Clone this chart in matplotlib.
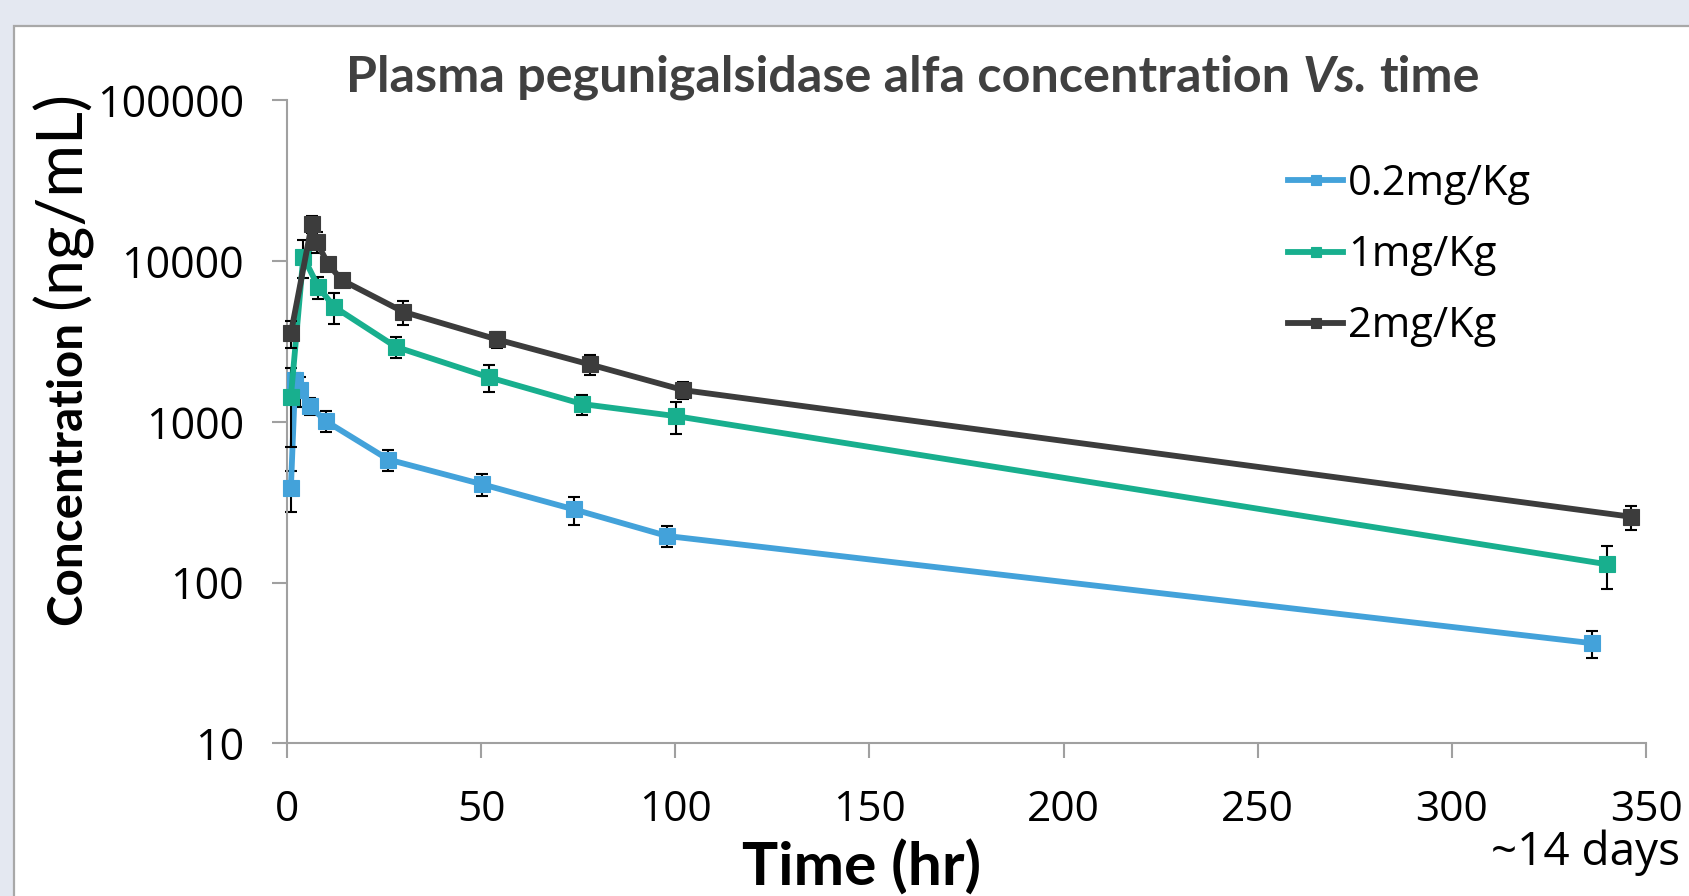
import matplotlib
matplotlib.use("Agg")
import matplotlib.pyplot as plt
from matplotlib.patches import Rectangle
from matplotlib.ticker import NullLocator, FixedLocator, FixedFormatter

# ---------------- data ----------------
time_02 = [1.0, 2.1, 3.4, 5.9, 10.0, 26.1, 50.1, 74.0, 97.9, 336.1]
conc_02 = [385, 1810, 1570, 1250, 1010, 583, 410, 285, 195, 42]
err_02 = [110, 190, 330, 150, 150, 89, 63, 57, 29, 8]

time_1 = [1.0, 4.2, 8.1, 12.1, 28.0, 52.1, 76.1, 100.2, 340.0]
conc_1 = [1430, 10640, 6890, 5200, 2930, 1890, 1290, 1085, 130]
err_1 = [730, 2800, 1050, 1120, 450, 360, 185, 240, 39]

time_2 = [1.0, 6.4, 7.6, 10.6, 14.1, 30.0, 54.0, 78.0, 102.1, 346.1]
conc_2 = [3550, 17000, 13200, 9570, 7620, 4830, 3260, 2275, 1575, 257]
err_2 = [660, 2000, 2000, 600, 500, 830, 380, 320, 190, 43]

series_labels = ["0.2mg/Kg", "1mg/Kg", "2mg/Kg"]
series_colors = ["#43A2DA", "#18AF8E", "#3C3C3C"]

x_ticks = [0, 50, 100, 150, 200, 250, 300, 350]
y_ticks = [10, 100, 1000, 10000, 100000]
y_tick_labels = ["10", "100", "1000", "10000", "100000"]

title_parts = [("Plasma pegunigalsidase alfa concentration", "normal"),
               ("Vs.", "italic"),
               ("time", "normal")]
x_label = "Time (hr)"
y_label_bold = "Concentration"
y_label_unit = "(ng/mL)"
x_note = "~14 days"

# ---------------- style ----------------
W, H, DPI = 1689, 896, 100
REG = ["Open Sans", "DejaVu Sans"]
BOLD = ["Lato", "DejaVu Sans"]
plt.rcParams["font.family"] = REG
AXIS_GRAY = "#A0A0A0"
TITLE_COLOR = "#404040"

fig = plt.figure(figsize=(W / DPI, H / DPI), dpi=DPI)
fig.patch.set_facecolor("#E4E8F1")
panel = Rectangle((14 / W, -0.2), 1.5, 1.2 - 26 / H, transform=fig.transFigure,
                  facecolor="white", edgecolor="#A8A8A8", linewidth=1.6, zorder=-5)
fig.patches.append(panel)

ax = fig.add_axes([287 / W, 1 - 743.4 / H, (1646 - 287) / W, (743.4 - 100.3) / H])
ax.set_facecolor("none")
ax.set_zorder(2)

all_series = [(time_02, conc_02, err_02), (time_1, conc_1, err_1), (time_2, conc_2, err_2)]
for i, ((t, c, e), lab, col) in enumerate(zip(all_series, series_labels, series_colors)):
    ax.errorbar(t, c, yerr=e, fmt="none", ecolor="black", elinewidth=1.5,
                capsize=4.5, capthick=1.5, zorder=2 + i * 2, clip_on=False)
    ax.plot(t, c, "-s", color=col, lw=4.2, ms=11.5, mec=col, mew=0.8,
            label=lab, zorder=3 + i * 2, clip_on=False)

ax.set_yscale("log")
ax.set_ylim(10, 100000)
ax.set_xlim(0, 350)
ax.yaxis.set_major_locator(FixedLocator(y_ticks))
ax.yaxis.set_major_formatter(FixedFormatter(y_tick_labels))
ax.yaxis.set_minor_locator(NullLocator())
ax.set_xticks(x_ticks)
ax.set_xticklabels([str(v) for v in x_ticks])

for s in ["top", "right"]:
    ax.spines[s].set_visible(False)
for s in ["left", "bottom"]:
    ax.spines[s].set_color(AXIS_GRAY)
    ax.spines[s].set_linewidth(1.5)
ax.tick_params(axis="y", which="major", direction="out", length=11, width=1.5,
               color=AXIS_GRAY, labelsize=31, pad=20, labelcolor="black")
ax.tick_params(axis="x", which="major", direction="out", length=11, width=1.5,
               color=AXIS_GRAY, labelsize=30.5, pad=22, labelcolor="black")

leg = fig.legend(loc="upper left", bbox_to_anchor=(1288 / W, 1 - 163 / H),
                 frameon=False, fontsize=30, handlelength=1.32, handletextpad=0.12,
                 labelspacing=0.70, borderpad=0, borderaxespad=0, markerscale=0.62)
for ln in leg.get_lines():
    ln.set_linewidth(4.2)

renderer = fig.canvas.get_renderer()


def ext(t):
    return t.get_window_extent(renderer)


def space_width(size, weight, family):
    a = fig.text(0, 0, "n n", fontsize=size, fontweight=weight, family=family)
    b = fig.text(0, 0, "nn", fontsize=size, fontweight=weight, family=family)
    w = ext(a).width - ext(b).width
    a.remove()
    b.remove()
    return w


# ---- title (bold, "Vs." bold italic) ----
base = 40
tobjs = [fig.text(0, 0, s, fontsize=base, fontweight="bold", fontstyle=st, family=BOLD,
                  color=TITLE_COLOR, ha="left", va="baseline") for s, st in title_parts]
gap = space_width(base, "bold", BOLD)
total = sum(ext(o).width for o in tobjs) + gap * (len(tobjs) - 1)
size = base * 1131 / total
for o in tobjs:
    o.set_fontsize(size)
gap = space_width(size, "bold", BOLD)
widths = [ext(o).width for o in tobjs]
total = sum(widths) + gap * (len(tobjs) - 1)
x = 913 - total / 2
for o, w in zip(tobjs, widths):
    o.set_position((x / W, 1 - 91.5 / H))
    x += w + gap

# ---- x label ----
xl = fig.text(862 / W, 1 - 885.5 / H, x_label, fontsize=40, fontweight="bold",
              family=BOLD, ha="center", va="baseline", color="black")
xl.set_fontsize(40 * 239 / ext(xl).width)

# ---- y label (bold + regular) ----
y1 = fig.text(0, 0, y_label_bold, fontsize=36, fontweight="bold", family=BOLD,
              rotation=90, rotation_mode="anchor", ha="left", va="baseline", color="black")
y2 = fig.text(0, 0, y_label_unit, fontsize=36, fontweight="normal", family=BOLD,
              rotation=90, rotation_mode="anchor", ha="left", va="baseline", color="black")
y1.set_fontsize(36 * 303 / ext(y1).height)
y2.set_fontsize(36 * 218 / ext(y2).height)
y1.set_position((81 / W, 1 - 625 / H))
y2.set_position((81 / W, 1 - 309 / H))

# ---- note below the last tick ----
fig.text(1680 / W, 1 - 865 / H, x_note, fontsize=33, family=REG,
         ha="right", va="baseline", color="black")

fig.savefig("out.png", dpi=DPI, facecolor=fig.get_facecolor())
